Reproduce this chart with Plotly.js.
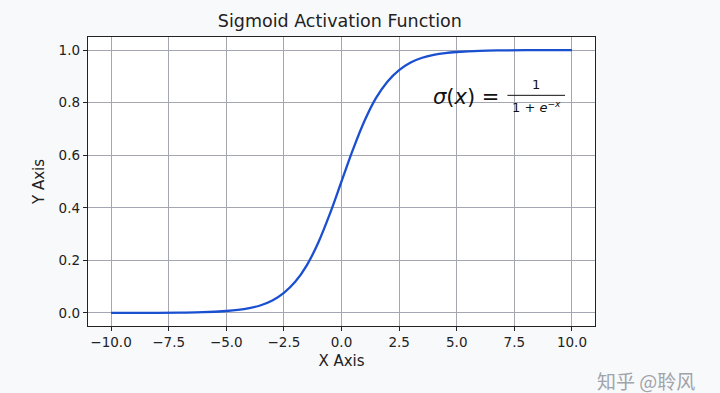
<!DOCTYPE html>
<html>
<head>
<meta charset="utf-8">
<script src="https://cdn.plot.ly/plotly-3.0.1.min.js"></script>
<style>
html,body{margin:0;padding:0;background:#f8f9fb;}
#chart{width:720px;height:393px;}
</style>
</head>
<body>
<div id="chart"></div>
<script>
// Values
const xValues = [-10, -9, -8, -7, -6, -5, -4.5, -4, -3.5, -3, -2.5, -2, -1.5, -1, -0.5, 0, 0.5, 1, 1.5, 2, 2.5, 3, 3.5, 4, 4.5, 5, 6, 7, 8, 9, 10];
const yValues = [0.00005, 0.0001, 0.0003, 0.001, 0.0025, 0.007, 0.011, 0.018, 0.029, 0.047, 0.076, 0.119, 0.182, 0.269, 0.378, 0.5, 0.622, 0.731, 0.818, 0.881, 0.924, 0.953, 0.971, 0.982, 0.989, 0.993, 0.9975, 0.999, 0.9997, 0.9999, 0.99995];
const xTicks = [-10, -7.5, -5, -2.5, 0, 2.5, 5, 7.5, 10];
const xTickLabels = ["−10.0", "−7.5", "−5.0", "−2.5", "0.0", "2.5", "5.0", "7.5", "10.0"];
const yTicks = [0, 0.2, 0.4, 0.6, 0.8, 1.0];
const yTickLabels = ["0.0", "0.2", "0.4", "0.6", "0.8", "1.0"];

const font = "DejaVu Sans, sans-serif";
const trace = {
  x: xValues, y: yValues, type: "scatter", mode: "lines",
  line: {color: "#1a4fd0", width: 2.3, shape: "spline", smoothing: 1},
  hoverinfo: "skip"
};
const layout = {
  width: 720, height: 393,
  margin: {l: 88, r: 125, t: 37, b: 67},
  paper_bgcolor: "#f8f9fb",
  plot_bgcolor: "#ffffff",
  showlegend: false,
  title: {text: "Sigmoid Activation Function", font: {family: font, size: 17.5, color: "#222"}, x: 0.472, xanchor: "center", y: 0.948, yanchor: "middle"},
  xaxis: {
    range: [-11, 11], tickvals: xTicks, ticktext: xTickLabels,
    showgrid: true, gridcolor: "#a4a7b2", gridwidth: 1, zeroline: false,
    showline: true, linecolor: "#222", linewidth: 1.2, mirror: true,
    ticks: "outside", ticklen: 4, tickcolor: "#222",
    tickfont: {family: font, size: 13.5, color: "#222"},
    title: {text: "X Axis", font: {family: font, size: 15, color: "#222"}, standoff: 6}
  },
  yaxis: {
    range: [-0.05, 1.05], tickvals: yTicks, ticktext: yTickLabels,
    showgrid: true, gridcolor: "#a4a7b2", gridwidth: 1, zeroline: false,
    showline: true, linecolor: "#222", linewidth: 1.2, mirror: true,
    ticks: "outside", ticklen: 4, tickcolor: "#222",
    tickfont: {family: font, size: 13.5, color: "#222"},
    title: {text: "Y Axis", font: {family: font, size: 15, color: "#222"}, standoff: 10}
  },
  annotations: [
    {x: 3.9, y: 0.82, xref: "x", yref: "y", xanchor: "left", yanchor: "middle", showarrow: false,
     text: "<i>σ</i>(<i>x</i>) =", font: {family: font, size: 21, color: "#111"}},
    {x: 8.45, y: 0.868, xref: "x", yref: "y", xanchor: "center", yanchor: "middle", showarrow: false,
     text: "1", font: {family: font, size: 13, color: "#111"}},
    {x: 8.45, y: 0.782, xref: "x", yref: "y", xanchor: "center", yanchor: "middle", showarrow: false,
     text: "1 + <i>e</i><sup>−<i>x</i></sup>", font: {family: font, size: 13, color: "#111"}},
    {x: 1, y: -0.19, xref: "paper", yref: "paper", xanchor: "left", yanchor: "middle", showarrow: false,
     text: "知乎 @聆风", font: {family: "Noto Sans CJK SC, sans-serif", size: 19, color: "#a0a3aa"}}
  ],
  shapes: [
    {type: "line", xref: "x", yref: "y", x0: 7.2, x1: 9.7, y0: 0.828, y1: 0.828, line: {color: "#111", width: 1}}
  ]
};
Plotly.newPlot("chart", [trace], layout, {displayModeBar: false, staticPlot: true});
</script>
</body>
</html>
